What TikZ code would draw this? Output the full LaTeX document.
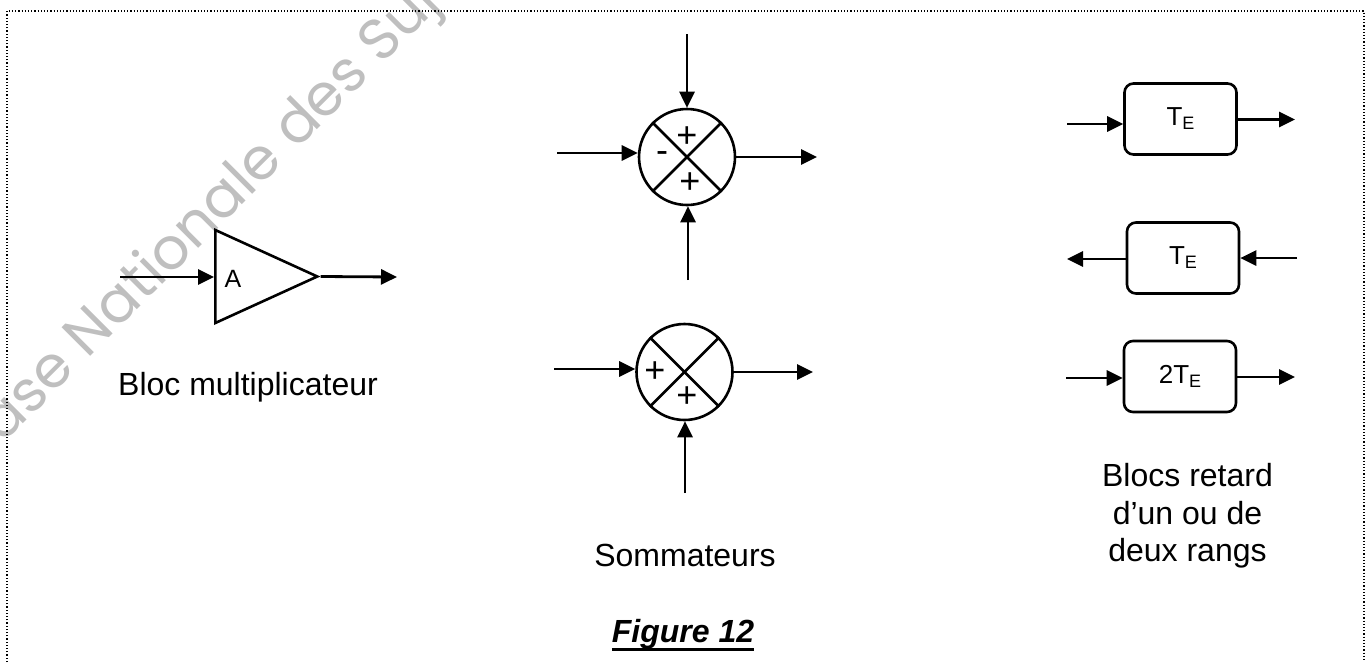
\documentclass[tikz,border=0pt]{standalone}
\usepackage{fontspec}
\setmainfont{Liberation Sans}
\newfontfamily\wmfont{Poppins}
\usetikzlibrary{arrows.meta,shapes.geometric}
\definecolor{wmgray}{HTML}{BFBFBF}
\newcommand{\sizept}[1]{\fontsize{#1}{#1}\selectfont}
\newcommand{\delay}[1]{#1\raisebox{-4pt}{\sizept{18}E}}
\newcommand{\figline}[1]{\setbox0\hbox{#1}\rlap{\rule[-9pt]{\wd0}{3.5pt}}\box0}
\tikzset{
  sig/.style={line width=2.8pt,-{Triangle[length=16pt,width=15pt]}},
  sumnode/.style={draw,circle,line width=2.6pt,minimum size=96pt,inner sep=0pt},
  delaybox/.style={draw,rounded corners=9pt,line width=2.6pt,minimum width=112pt,minimum height=71pt,inner sep=0pt,font=\sizept{26}},
  signlab/.style={inner sep=0pt,font=\sizept{36}},
  caption/.style={inner sep=0pt,align=center,font=\fontsize{32}{37.5}\selectfont},
}
\begin{document}
\begin{tikzpicture}[x=1pt,y=-1pt]
	\useasboundingbox (0,0) rectangle (1372,662);
	\node (wm) [rotate=45,anchor=base west,inner sep=0pt,text=wmgray,font=\wmfont\sizept{58}] at (-23,470) {Base Nationale des Sujets};
	\coordinate (fa) at (7,662);
	\coordinate (fb) at (7,11);
	\coordinate (fc) at (1364,11);
	\coordinate (fd) at (1364,662);
	\draw[dotted,line width=1.2pt] (fa) -- (fb) -- (fc) -- (fd);

	% multiplier
	\node (mul) [draw,isosceles triangle,isosceles triangle stretches,shape border rotate=0,line width=2.6pt,minimum width=93pt,minimum height=102pt,inner sep=0pt,anchor=lower side] at (214,276.5) {};
	\node (A) [inner sep=0pt,font=\sizept{25}] at (233,279) {A};
	\coordinate (mulin) at (120,277);
	\coordinate (mulout) at (397,277);
	\draw[sig] (mulin) -- (mulin -| mul.lower side);
	\draw[sig] (mul.apex) -- (mulout);
	\node (mulcap) [caption] at (248,387) {Bloc multiplicateur};

	% adders
	\node (s1) [sumnode] at (687,157) {};
	\node (s2) [sumnode] at (684.5,372) {};
	\foreach \s in {s1,s2} {
		\draw[line width=2.6pt] (\s.45) -- (\s.225);
		\draw[line width=2.6pt] (\s.135) -- (\s.315);
	}
	\coordinate (s1t) at (687,34);
	\coordinate (s1l) at (557,153);
	\coordinate (s1r) at (817,157);
	\coordinate (s1b) at (688,280);
	\draw[sig] (s1t) -- (s1.north);
	\draw[sig] (s1l) -- (s1l -| s1.west);
	\draw[sig] (s1.east) -- (s1r);
	\draw[sig] (s1b) -- (s1b |- s1.south);
	\node (p1) [signlab] at (687,137) {+};
	\node (m1) [signlab] at (662,157) {-};
	\node (p2) [signlab] at (690,183) {+};

	\coordinate (s2l) at (554,369);
	\coordinate (s2r) at (813,372);
	\coordinate (s2b) at (685,493);
	\draw[sig] (s2l) -- (s2l -| s2.west);
	\draw[sig] (s2.east) -- (s2r);
	\draw[sig] (s2b) -- (s2b |- s2.south);
	\node (p3) [signlab] at (655,372) {+};
	\node (p4) [signlab] at (687,397) {+};
	\node (sumcap) [caption] at (685,555.5) {Sommateurs};

	% delay blocks
	\node (b1) [delaybox] at (1180.5,119) {\delay{T}};
	\node (b2) [delaybox] at (1183,258) {\delay{T}};
	\node (b3) [delaybox] at (1180,376.5) {\delay{2T}};
	\coordinate (b1i) at (1067,124);
	\coordinate (b1o) at (1295,119.5);
	\coordinate (b2i) at (1297,258);
	\coordinate (b2o) at (1067,259);
	\coordinate (b3i) at (1066,378);
	\coordinate (b3o) at (1295,377);
	\draw[sig] (b1i) -- (b1i -| b1.west);
	\draw[sig] (b1o -| b1.east) -- (b1o);
	\draw[sig] (b2i) -- (b2i -| b2.east);
	\draw[sig] (b2o -| b2.west) -- (b2o);
	\draw[sig] (b3i) -- (b3i -| b3.west);
	\draw[sig] (b3o -| b3.east) -- (b3o);
	\node (bcap) [caption] at (1187.5,516) {Blocs retard\\d’un ou de\\deux rangs};

	\node (fig) [anchor=base,inner sep=0pt,font=\sizept{32}\bfseries\itshape] at (683,642) {\figline{Figure 12}};
\end{tikzpicture}
\end{document}
